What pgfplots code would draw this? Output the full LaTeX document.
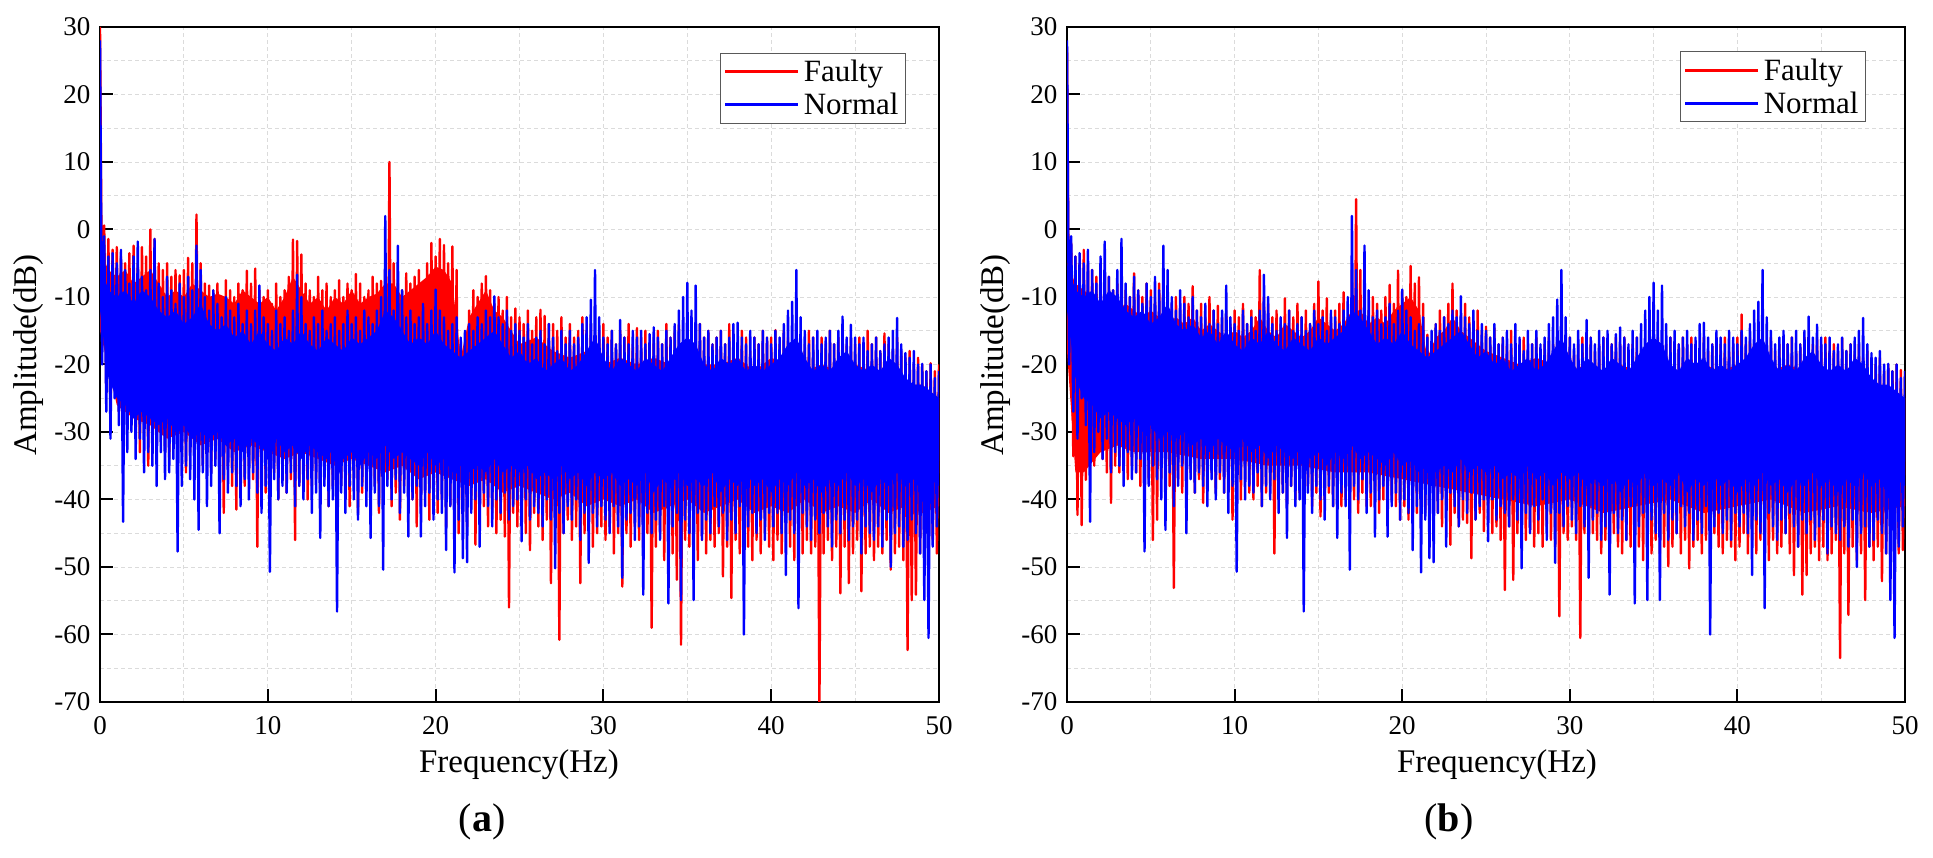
\documentclass[border=0pt]{standalone}
\usepackage{fontspec}
\setmainfont{Liberation Serif}
\usepackage{pgfplots}
\usepackage{pgfplotstable}
\pgfplotsset{compat=1.18}

% Normal (shared by both panels): values at 0, 0.125, 0.25, ... Hz
\pgfplotstableread[header=false,row sep=\\]{
28\\-20\\-1\\-27\\-4\\-31\\-3.5\\-25\\
-5\\-29\\-3\\-43.3\\-6\\-33\\-8\\-30\\
-4\\-34\\-1.8\\-31\\-7\\-36\\-9\\-33\\
-6\\-35\\-1.4\\-38\\-8\\-33\\-10\\-37\\
-7\\-36\\-9\\-34\\-11\\-47.7\\-8\\-38\\
-10\\-35\\-7\\-37\\-9\\-40\\-2.4\\-44.5\\
-6\\-36\\-10\\-41\\-12\\-38\\-9\\-35\\
-11\\-45\\-13\\-37\\-10\\-39\\-12\\-36\\
-13\\-38\\-11\\-41\\-14\\-37\\-12\\-40\\
-14\\-36\\-12\\-39\\-8.3\\-42\\-13\\-38\\
-14\\-50.7\\-15\\-37\\-12\\-40\\-14\\-38\\
-13\\-39\\-15\\-36\\-12\\-41\\-6.7\\-38\\
-10\\-40\\-14\\-37\\-15\\-42\\-13\\-39\\
-14\\-45.7\\-12\\-38\\-15\\-41\\-14\\-40\\
-13\\-56.6\\-15\\-39\\-14\\-42\\-12\\-38\\
-14\\-40\\-13\\-43\\-15\\-38\\-12\\-41\\
-13\\-45.7\\-14\\-39\\-12\\-41\\-10\\-50.4\\
2\\-38\\-6\\-40\\-12\\-37\\-2.4\\-42\\
-9\\-39\\-13\\-45.5\\-12\\-40\\-14\\-38\\
-13\\-45.5\\-11\\-41\\-14\\-39\\-12\\-43\\
-8.9\\-40\\-12\\-42\\-13\\-47.5\\-15\\-41\\
-14\\-50.8\\-13\\-43\\-16\\-48.7\\-15\\-49.3\\
-14\\-42\\-15\\-40\\-13\\-47\\-14\\-39\\
-12\\-41\\-13\\-44\\-9.9\\-40\\-13\\-42\\
-14\\-39\\-12\\-43\\-15\\-41\\-14\\-40\\
-15\\-46.2\\-16\\-40\\-14\\-43\\-17\\-41\\
-16\\-42\\-15\\-44\\-17\\-40\\-14\\-43\\
-16\\-50.2\\-18\\-42\\-15\\-45\\-17\\-41\\
-15\\-43\\-17\\-40\\-16\\-46\\-14\\-42\\
-13\\-49.4\\-10.4\\-42\\-6\\-44\\-13\\-41\\
-16\\-43\\-17\\-45\\-15\\-41\\-17\\-44\\
-13.4\\-51.6\\-16\\-43\\-17\\-42\\-15\\-46\\
-16\\-44\\-15\\-54.1\\-17\\-42\\-15.5\\-45\\
-14.5\\-43\\-16\\-46\\-17\\-41\\-15\\-55.4\\
-16\\-44\\-14\\-42\\-12\\-54.9\\-10\\-43\\
-7.9\\-45\\-12\\-54.9\\-8.3\\-42\\-14\\-46\\
-16\\-43\\-15\\-45\\-17\\-41\\-16\\-44\\
-15\\-42\\-17\\-46\\-16\\-43\\-14\\-45\\
-13.8\\-41\\-16\\-60\\-17\\-44\\-15\\-42\\
-16\\-45\\-17\\-43\\-15\\-46\\-16\\-42\\
-17\\-44\\-15\\-42\\-16\\-45\\-14\\-51.2\\
-12\\-43\\-10.7\\-45\\-6\\-56.1\\-13\\-42\\
-15\\-44\\-17\\-46\\-16\\-43\\-15\\-45\\
-17\\-42\\-16\\-44\\-15\\-47\\-17\\-43\\
-15\\-45\\-12.9\\-43\\-16\\-46\\-14.1\\-44\\
-16\\-43\\-17\\-48\\-16\\-44\\-18\\-45\\
-17\\-46\\-16\\-44\\-18\\-47\\-17\\-43\\
-16\\-50\\-15\\-45\\-13.1\\-44\\-17\\-47\\
-18.3\\-46\\-19\\-43\\-18\\-45\\-20\\-48\\
-19.9\\-54.9\\-21\\-60.5\\-20\\-47\\-22\\-44\\
-21\\
}\tblue

% Faulty, panel (a)
\pgfplotstableread[header=false,row sep=\\]{
30\\-15\\0.6\\-24\\-1.4\\-28\\-3\\-22\\
-2.6\\-27\\-4\\-30\\-5\\-26\\-3.5\\-29\\
-2.4\\-31\\-5\\-33\\-2.6\\-29\\-4\\-35\\
0\\-32\\-1.4\\-34\\-5\\-30\\-6\\-33\\
-5\\-34\\-7\\-31\\-6\\-35\\-6.8\\-33\\
-6\\-36\\-4.2\\-33\\-5\\-35\\2.2\\-34\\
-5\\-35\\-8\\-32\\-8.3\\-36\\-9\\-34\\
-8\\-37\\-10\\-42\\-7.5\\-35\\-9\\-38\\
-10\\-41.5\\-8\\-36\\-9\\-38\\-6.1\\-35\\
-8\\-37\\-5.8\\-47\\-9\\-36\\-10\\-39\\
-9\\-38\\-11\\-36\\-8\\-40\\-10\\-37\\
-9\\-39\\-7\\-37\\-1.5\\-46\\-1.7\\-38\\
-3.7\\-36\\-8\\-40\\-9\\-38\\-10\\-37\\
-7\\-39\\-9\\-37\\-8\\-41\\-10\\-38\\
-9\\-40\\-7.5\\-38\\-10\\-36\\-8\\-41\\
-9\\-37\\-6.6\\-42\\-8\\-39\\-10\\-38\\
-9\\-40\\-7\\-38\\-8\\-42\\-7.6\\-39\\
-5\\-37\\10\\-41\\-5\\-39\\-8\\-43\\
-9\\-38\\-6.5\\-42\\-8\\-40\\-7\\-44\\
-6\\-41\\-8\\-39\\-5\\-43\\-2\\-40\\
-4\\-42\\-1.4\\-40\\-2.3\\-44\\-5\\-41\\
-2.5\\-43\\-6\\-45\\-16.3\\-41\\-18.8\\-44\\
-12\\-40\\-9\\-46.7\\-10\\-43\\-8\\-41\\
-6.9\\-44\\-9\\-42\\-11\\-45\\-10\\-43\\
-12\\-45.5\\-10\\-56\\-13\\-42\\-11.7\\-44\\
-13\\-43\\-14\\-45\\-12\\-47.5\\-15\\-42\\
-13\\-44\\-11.9\\-46\\-12.8\\-43\\-14\\-52.4\\
-14\\-44\\-15\\-60.8\\-13\\-45\\-16\\-43\\
-14\\-46\\-16\\-44\\-15\\-52.4\\-13\\-45\\
-15\\-43\\-14\\-47\\-16\\-45\\-15\\-44\\
-14\\-46\\-16\\-44\\-15\\-48\\-17\\-45\\
-15\\-52.9\\-16\\-45\\-14\\-47\\-17\\-44\\
-14.6\\-46\\-16\\-48\\-15\\-45\\-17\\-59\\
-16\\-47\\-15\\-45\\-17\\-49\\-14\\-46\\
-16\\-48\\-15\\-51.9\\-14.1\\-61.5\\-17\\-46\\
-15\\-47\\-17\\-45\\-16\\-49\\-14\\-46\\
-16\\-48\\-15\\-46\\-17\\-47\\-16\\-45\\
-15\\-51.4\\-17\\-47\\-14\\-54.6\\-16\\-46\\
-17\\-48\\-15\\-45\\-16\\-47\\-18\\-49\\
-16\\-46\\-17\\-48\\-15\\-45\\-16\\-47\\
-16\\-49\\-14.9\\-46\\-17\\-48\\-15\\-45\\
-16\\-47\\-17\\-49\\-15\\-46\\-16\\-48\\
-17\\-46\\-15\\-48\\-16\\-47\\-18\\-70\\
-16\\-48\\-17\\-46\\-15\\-49\\-17\\-47\\
-16\\-53.9\\-15\\-47\\-17\\-52.4\\-16\\-48\\
-17\\-46\\-16\\-53.6\\-18\\-48\\-15\\-47\\
-17\\-49\\-16\\-47\\-18\\-48\\-15.4\\-46\\
-17\\-50.4\\-18\\-48\\-16\\-47\\-18\\-49\\
-19\\-62.3\\-18\\-54.9\\-20\\-54.1\\-19\\-48\\
-20\\-47\\-21\\-49\\-19.8\\-46\\-21\\-48\\
-20\\
}\tredA

% Faulty, panel (b)
\pgfplotstableread[header=false,row sep=\\]{
27\\-18\\-2\\-33.6\\-4\\-42.3\\-5\\-43.8\\
-3\\-37.1\\-5\\-31\\-6\\-35\\-7\\-33\\
-6\\-34\\-8\\-36\\-7\\-40.5\\-9\\-35\\
-8\\-36\\-7\\-34\\-9\\-37\\-10\\-35\\
-6.5\\-36\\-9\\-38\\-10\\-35\\-8\\-37\\
-9\\-46\\-10\\-43\\-8\\-37\\-7.1\\-39\\
-9\\-38\\-11\\-53.1\\-10\\-37\\-12\\-39\\
-10\\-38\\-11\\-36\\-8.4\\-39\\-12\\-37\\
-11\\-40.5\\-13\\-38\\-10\\-36\\-12\\-39\\
-11.3\\-37\\-13\\-39\\-12\\-38\\-14\\-43\\
-12\\-38\\-13\\-40\\-11\\-37\\-14\\-39\\
-12\\-40\\-13\\-38\\-6\\-41\\-10\\-39\\
-11\\-38\\-13\\-48\\-12\\-40\\-14\\-39\\
-10.2\\-41\\-12\\-38\\-13\\-40\\-11\\-39\\
-13\\-40\\-12\\-38\\-14\\-41\\-11\\-39\\
-7.7\\-42.5\\-12\\-40\\-10.2\\-39\\-13\\-41\\
-12\\-39\\-11\\-41\\-9.3\\-40\\-13\\-42\\
-6\\-40\\4.5\\-42\\-6\\-39\\-11\\-41\\
-12\\-41\\-10\\-39\\-11\\-42\\-12\\-40\\
-10\\-42\\-8.2\\-40\\-11\\-41\\-6.1\\-43\\
-9\\-41\\-10\\-43\\-5.4\\-40\\-8\\-42\\
-7.1\\-43\\-11\\-42\\-15.6\\-41\\-17\\-44\\
-14\\-42\\-12\\-44\\-13\\-41\\-11\\-46.7\\
-8\\-42\\-12\\-44\\-13\\-43\\-11\\-43.5\\
-13\\-48.7\\-14\\-43\\-12\\-42\\-15\\-44.7\\
-14.4\\-43\\-16\\-45\\-14.6\\-44\\-17\\-46\\
-16\\-53.4\\-17\\-44\\-15\\-51.9\\-18\\-45\\
-17\\-44\\-16\\-46\\-18\\-45\\-17\\-47\\
-16\\-45\\-18\\-47\\-17\\-44\\-16\\-46\\
-17\\-47\\-16\\-57.3\\-18\\-45\\-17\\-46\\
-16\\-44\\-18\\-46\\-17\\-60.5\\-16\\-45\\
-17\\-47\\-16\\-45\\-18\\-46\\-17\\-48\\
-16\\-46\\-18\\-48\\-17\\-45\\-16\\-47\\
-17\\-48\\-16\\-46\\-18\\-47\\-17\\-45\\
-16\\-47\\-18\\-49\\-17\\-46\\-16\\-48\\
-17\\-46\\-16\\-48\\-18\\-47\\-17\\-49.9\\
-16\\-47\\-18\\-45\\-17\\-48\\-16\\-46\\
-17\\-50.2\\-16\\-47\\-17\\-46\\-18\\-48\\
-16\\-46\\-18\\-48\\-17\\-45\\-16\\-47\\
-17\\-48\\-16\\-46\\-18\\-47\\-17\\-49\\
-16\\-47\\-12.6\\-45\\-17\\-48\\-16\\-46\\
-17\\-48\\-16\\-46\\-18\\-47\\-17\\-49\\
-16\\-46\\-18\\-48\\-17\\-47\\-16\\-45\\
-17\\-48\\-16\\-51.2\\-18\\-47\\-17\\-54.1\\
-16\\-51.2\\-18\\-48\\-17\\-47\\-16\\-49\\
-17\\-47\\-16\\-49\\-18\\-48\\-17\\-46\\
-18\\-63.5\\-16.1\\-48\\-18\\-57.1\\-17\\-47\\
-18\\-49\\-17\\-48\\-19\\-54.9\\-18\\-47\\
-19\\-49\\-20\\-47\\-19\\-52.1\\-21\\-48\\
-20\\-47\\-21\\-49\\-20\\-48\\-20.8\\-47.5\\
-21\\
}\tredB

\pgfplotsset{
  spec/.style={
    scale only axis, width=839pt, height=675pt,
    xmin=0, xmax=50, ymin=-70, ymax=30,
    xtick={0,10,...,50}, ytick={-70,-60,...,30},
    minor x tick num=1, minor y tick num=1,
    grid=both,
    major grid style={dash pattern=on 4pt off 3pt, draw=black!14, line width=0.9pt},
    minor grid style={dash pattern=on 4pt off 3pt, draw=black!14, line width=0.9pt},
    axis line style={black, line width=2pt},
    tick align=inside, xtick pos=left, ytick pos=left,
    major tick length=13pt, minor tick length=0pt,
    every tick/.style={black, line width=2pt},
    tick label style={font=\fontsize{27}{32}\selectfont},
    /pgf/number format/assume math mode=true,
    xticklabel shift=11pt, yticklabel shift=6pt,
    every axis plot/.append style={line width=2.4pt, line join=round},
    legend cell align=left,
    legend image code/.code={\draw[##1, line width=3pt] (0pt,0pt) -- (73pt,0pt);},
    legend style={anchor=north east, font=\fontsize{31}{37}\selectfont,
      draw=black!65, line width=1pt, fill=white, inner xsep=3pt, inner ysep=3pt,
      row sep=2pt, nodes={inner sep=4pt}},
  },
  corefill/.style={fill=#1, draw=none, forget plot},
}
\definecolor{fred}{RGB}{255,0,0}
\definecolor{nblue}{RGB}{0,0,255}

% dense core of the Normal trace (upper edge, then lower edge)
\newcommand{\normalcore}{%
\addplot[corefill=nblue] coordinates {
(0,-5) (0.5,-9) (1,-10) (1.5,-9) (2,-11) (2.5,-9) (3,-10) (3.5,-12) (4,-13) (4.5,-12)
(5,-14) (5.5,-13) (6,-11) (6.5,-14) (7,-15) (7.5,-14) (8,-16) (8.5,-15) (9,-17) (9.5,-15)
(10,-17) (10.5,-18) (11,-16) (11.5,-17) (12,-15) (12.5,-17) (13,-18) (13.5,-16) (14,-17) (14.5,-18)
(15,-16) (15.5,-17) (16,-16) (16.5,-15) (17,-12) (17.5,-13) (18,-15) (18.5,-17) (19,-16) (19.5,-17)
(20,-15) (20.5,-17) (21,-18) (21.5,-19) (22,-18) (22.5,-17) (23,-16) (23.5,-15) (24,-17) (24.5,-19)
(25,-18) (25.5,-20) (26,-19) (26.5,-21) (27,-20) (27.5,-19) (28,-21) (28.5,-20) (29,-18) (29.5,-16)
(30,-19) (30.5,-21) (31,-19) (31.5,-20) (32,-21) (32.5,-19) (33,-20) (33.5,-21) (34,-19) (34.5,-17)
(35,-16) (35.5,-17) (36,-20) (36.5,-21) (37,-19) (37.5,-20) (38,-19) (38.5,-21) (39,-20) (39.5,-21)
(40,-20) (40.5,-19) (41,-17) (41.5,-16) (42,-19) (42.5,-21) (43,-20) (43.5,-21) (44,-19) (44.5,-18)
(45,-20) (45.5,-21) (46,-20) (46.5,-21) (47,-19) (47.5,-20) (48,-22) (48.5,-23) (49,-23) (49.5,-24)
(50,-25)
(50,-38) (49.5,-37) (49,-39) (48.5,-37) (48,-38) (47.5,-36) (47,-38) (46.5,-37) (46,-39) (45.5,-37)
(45,-38) (44.5,-36) (44,-38) (43.5,-37) (43,-39) (42.5,-37) (42,-38) (41.5,-36) (41,-38) (40.5,-37)
(40,-39) (39.5,-37) (39,-38) (38.5,-36) (38,-38) (37.5,-37) (37,-39) (36.5,-36) (36,-38) (35.5,-37)
(35,-38) (34.5,-36) (34,-38) (33.5,-37) (33,-39) (32.5,-36) (32,-38) (31.5,-37) (31,-38) (30.5,-36)
(30,-37) (29.5,-36) (29,-38) (28.5,-36) (28,-37) (27.5,-35) (27,-37) (26.5,-36) (26,-37) (25.5,-35)
(25,-36) (24.5,-35) (24,-36) (23.5,-34) (23,-36) (22.5,-35) (22,-36) (21.5,-35) (21,-36) (20.5,-34)
(20,-35) (19.5,-33) (19,-35) (18.5,-34) (18,-33) (17.5,-34) (17,-32) (16.5,-34) (16,-33) (15.5,-35)
(15,-33) (14.5,-34) (14,-32) (13.5,-34) (13,-33) (12.5,-32) (12,-34) (11.5,-32) (11,-33) (10.5,-31)
(10,-33) (9.5,-32) (9,-31) (8.5,-33) (8,-31) (7.5,-32) (7,-30) (6.5,-31) (6,-30) (5.5,-31)
(5,-29) (4.5,-30) (4,-28) (3.5,-29) (3,-28) (2.5,-27) (2,-28) (1.5,-26) (1,-25) (0.5,-22)
(0,-12)};
}

\begin{document}
\begin{tikzpicture}
\useasboundingbox (0pt,0pt) rectangle (1933pt,858pt);

\begin{axis}[spec, at={(100pt,156pt)}, anchor=south west,
  legend style={at={(0.9607,0.9615)}}]
% dense core of the Faulty trace (a)
\addplot[corefill=fred] coordinates {
(0,-3) (0.5,-6) (1,-7) (1.5,-6) (2,-8) (2.5,-7) (3,-6) (3.5,-8) (4,-10) (4.5,-9)
(5,-10) (5.5,-8) (6,-9) (6.5,-10) (7,-9.5) (7.5,-10) (8,-11) (8.5,-9) (9,-10) (9.5,-11)
(10,-10) (10.5,-12) (11,-10) (11.5,-7) (12,-9) (12.5,-11) (13,-10) (13.5,-12) (14,-10) (14.5,-11)
(15,-9) (15.5,-11) (16,-10) (16.5,-9.5) (17,-8) (17.5,-8) (18,-10) (18.5,-9) (19,-8) (19.5,-7)
(20,-5.5) (20.5,-6) (21,-8) (21.5,-19) (22,-13) (22.5,-11) (23,-9) (23.5,-12) (24,-13) (24.5,-15)
(25,-17) (26,-16) (27,-18) (28,-19) (29,-18) (30,-20) (31,-19) (32,-20) (33,-19) (34,-20)
(35,-19) (36,-20) (37,-20) (38,-19) (39,-21) (40,-19) (41,-20) (42,-21) (43,-20) (44,-21)
(45,-20) (46,-21) (47,-21) (48,-23) (49,-23) (50,-25)
(50,-41) (49,-42) (48,-41) (47,-42) (46,-40) (45,-42) (44,-41) (43,-42) (42,-40) (41,-42)
(40,-41) (39,-42) (38,-40) (37,-41) (36,-42) (35,-40) (34,-41) (33,-42) (32,-40) (31,-41)
(30,-40) (29,-41) (28,-39) (27,-40) (26,-39) (25,-38) (24,-39) (23,-37) (22,-38) (21,-37)
(20,-36) (19,-37) (18,-35) (17,-36) (16,-35) (15,-34) (14,-35) (13,-34) (12,-33) (11,-34)
(10,-33) (9,-32) (8,-33) (7,-31) (6,-32) (5,-30) (4,-31) (3,-29) (2,-28) (1,-26) (0,-15)};
\addplot[fred] table[x expr=\coordindex*0.125, y index=0] {\tredA};
\addlegendentry{Faulty}
\normalcore
\addplot[nblue] table[x expr=\coordindex*0.125, y index=0] {\tblue};
\addlegendentry{Normal}
\end{axis}

\begin{axis}[spec, at={(1067pt,156pt)}, anchor=south west, width=838pt,
  legend style={at={(0.9535,0.9644)}}]
% dense core of the Faulty trace (b)
\addplot[corefill=fred] coordinates {
(0,-5) (0.5,-8) (1,-9) (1.5,-10) (2,-11) (2.5,-10) (3,-12) (3.5,-11) (4,-12) (4.5,-13)
(5,-12) (5.5,-13) (6,-14) (6.5,-13) (7,-14) (7.5,-13) (8,-15) (8.5,-14) (9,-15) (9.5,-16)
(10,-15) (10.5,-16) (11,-15) (11.5,-13) (12,-15) (12.5,-16) (13,-14) (13.5,-15) (14,-16) (14.5,-15)
(15,-13) (15.5,-14) (16,-15) (16.5,-14) (17,-12) (17.5,-12) (18,-14) (18.5,-13) (19,-14) (19.5,-12)
(20,-11) (20.5,-10) (21,-12) (21.5,-19) (22,-16) (22.5,-15) (23,-13) (23.5,-15) (24,-16) (24.5,-17)
(25,-18) (26,-19) (27,-20) (28,-19) (29,-20) (30,-21) (31,-20) (32,-21) (33,-20) (34,-21)
(35,-20) (36,-21) (37,-21) (38,-20) (39,-21) (40,-20) (41,-21) (42,-21) (43,-20) (44,-21)
(45,-21) (46,-21) (47,-22) (48,-23) (49,-24) (50,-25)
(50,-41) (48,-42) (46,-41) (44,-42) (42,-40) (40,-41) (38,-42) (36,-40) (34,-41) (32,-42)
(30,-40) (28,-41) (26,-40) (24,-39) (22,-38) (20,-37) (18,-36) (16,-36) (14,-35) (12,-35)
(10,-34) (8,-34) (6,-33) (4,-33) (3,-32) (2,-33) (1,-36) (0.5,-36) (0,-18)};
\addplot[fred] table[x expr=\coordindex*0.125, y index=0] {\tredB};
\addlegendentry{Faulty}
\normalcore
\addplot[nblue] table[x expr=\coordindex*0.125, y index=0] {\tblue};
\addlegendentry{Normal}
\end{axis}

\node[font=\fontsize{33}{40}\selectfont, anchor=base] at (519pt,85pt) {Frequency(Hz)};
\node[font=\fontsize{33}{40}\selectfont, anchor=base] at (1497pt,85pt) {Frequency(Hz)};
\node[font=\fontsize{33}{40}\selectfont, rotate=90, anchor=center] at (29pt,503pt) {Amplitude(dB)};
\node[font=\fontsize{33}{40}\selectfont, rotate=90, anchor=center] at (996pt,503pt) {Amplitude(dB)};
\node[font=\fontsize{40}{48}\selectfont, anchor=center] at (482pt,36pt) {(\textbf{a})};
\node[font=\fontsize{40}{48}\selectfont, anchor=center] at (1449pt,36pt) {(\textbf{b})};
\end{tikzpicture}
\end{document}
